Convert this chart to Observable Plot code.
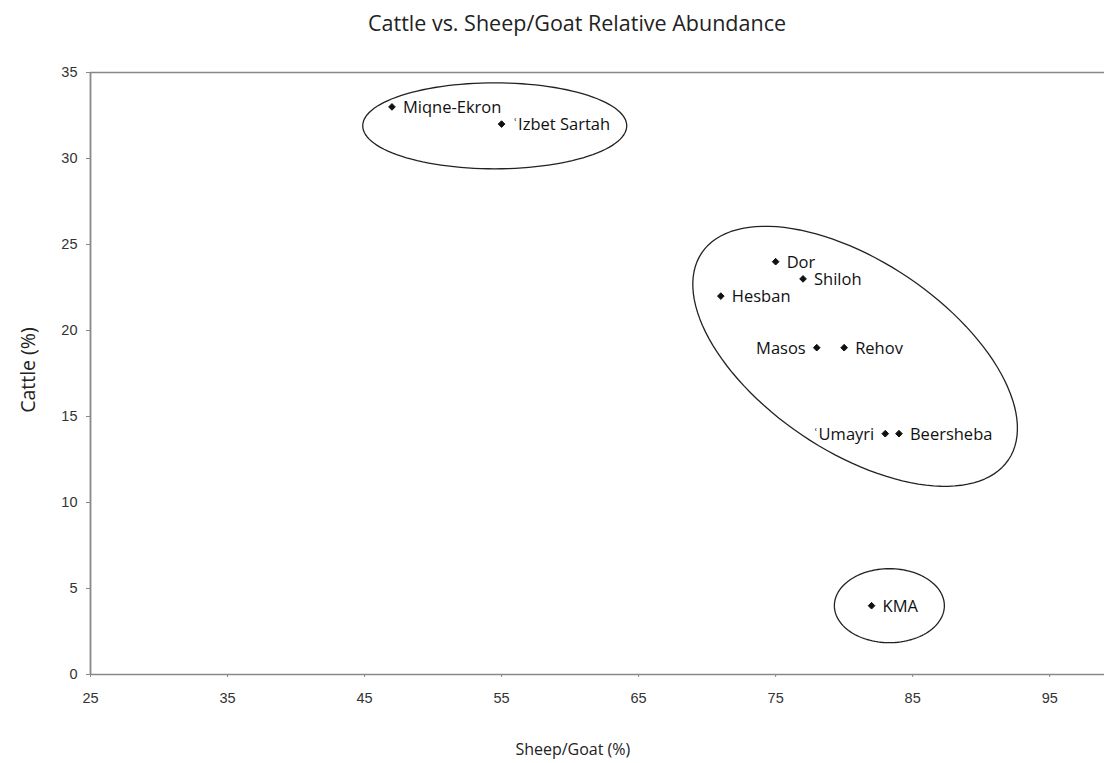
<!DOCTYPE html>
<html>
<head>
<meta charset="utf-8">
<script src="https://cdn.jsdelivr.net/npm/d3@7"></script>
<script src="https://cdn.jsdelivr.net/npm/@observablehq/plot@0.6"></script>
<style>
  html, body { margin: 0; padding: 0; background: #fff; }
  #title { height: 50px; line-height: 46px; font-family: "Open Sans", sans-serif; font-size: 21.5px; color: #222; text-align: center; width: 1104px; padding-left: 50px; box-sizing: border-box; }
  svg { display: block; }
  g[aria-label="x-axis tick label"], g[aria-label="y-axis tick label"] { font-size: 14.5px; font-family: "Liberation Sans", Arial, sans-serif; }
</style>
</head>
<body>
<div id="title">Cattle vs. Sheep/Goat Relative Abundance</div>
<div id="chart"></div>
<script>
// Data
const sites = ["Miqne-Ekron", "ʿIzbet Sartah", "Dor", "Shiloh", "Hesban", "Masos", "Rehov", "ʿUmayri", "Beersheba", "KMA"];
const sheepGoat = [47, 55, 75, 77, 71, 78, 80, 83, 84, 82];
const cattle = [33, 32, 24, 23, 22, 19, 19, 14, 14, 4];
const labelSide = ["right", "right", "right", "right", "right", "left", "right", "left", "right", "right"];
const xTicks = [25, 35, 45, 55, 65, 75, 85, 95];
const yTicks = [0, 5, 10, 15, 20, 25, 30, 35];

// Group ellipses (annotation): centre in data units
const ellipseCx = [54.5, 80.8, 83.3];
const ellipseCy = [31.9, 18.5, 4.0];

const data = sites.map((s, i) => ({site: s, x: sheepGoat[i], y: cattle[i], side: labelSide[i]}));

const W = 1104, H = 713;
const mL = 90, mR = 0, mT = 22, mB = 89;
const xDom = [25, 99], yDom = [0, 35];
const sx = (W - mL - mR) / (xDom[1] - xDom[0]);
const sy = (H - mT - mB) / (yDom[1] - yDom[0]);

// ellipse shape in pixels: semi-axes and rotation (deg)
const ellShape = [[132, 43, 0], [185, 95, 34], [55, 37, 0]];
const ellPts = [];
ellipseCx.forEach((cx, g) => {
  const [a, b, deg] = ellShape[g];
  const th = deg * Math.PI / 180;
  for (let k = 0; k <= 120; k++) {
    const t = k / 120 * 2 * Math.PI;
    const px = a * Math.cos(t) * Math.cos(th) - b * Math.sin(t) * Math.sin(th);
    const py = a * Math.cos(t) * Math.sin(th) + b * Math.sin(t) * Math.cos(th);
    ellPts.push({g, x: cx + px / sx, y: ellipseCy[g] - py / sy});
  }
});

const labelFont = '"Open Sans", sans-serif';
const tickFont = '"Liberation Sans", Arial, sans-serif';

const chart = Plot.plot({
  width: W, height: H,
  marginLeft: mL, marginRight: mR, marginTop: mT, marginBottom: mB,
  style: {fontFamily: tickFont, fontSize: "14px", color: "#333", background: "#fff", overflow: "visible"},
  x: {domain: xDom, label: null},
  y: {domain: yDom, label: null},
  marks: [
    Plot.axisX({ticks: xTicks, tickSize: 3, tickPadding: 15, label: null, fontSize: 14.5, fontFamily: tickFont, stroke: "#888", fill: "#333"}),
    Plot.axisY({ticks: yTicks, tickSize: 4, tickPadding: 9, label: null, fontSize: 14.5, fontFamily: tickFont, stroke: "#888", fill: "#333"}),
    Plot.ruleX([25], {stroke: "#888", strokeWidth: 1.8}),
    Plot.ruleY([0, 35], {stroke: "#888", strokeWidth: 1.6}),
    Plot.line(ellPts, {x: "x", y: "y", z: "g", stroke: "#222", strokeWidth: 1.3}),
    Plot.dot(data, {x: "x", y: "y", symbol: "diamond2", r: 3, fill: "#111", stroke: "#111", strokeWidth: 1}),
    Plot.text(data.filter(d => d.side === "right"), {x: "x", y: "y", text: "site", textAnchor: "start", dx: 11, dy: 1, fontFamily: labelFont, fontSize: 16.5, fill: "#111"}),
    Plot.text(data.filter(d => d.side === "left"), {x: "x", y: "y", text: "site", textAnchor: "end", dx: -11, dy: 1, fontFamily: labelFont, fontSize: 16.5, fill: "#111"}),
    Plot.text(["Sheep/Goat (%)"], {x: () => 60.2, y: () => -4.4, fontFamily: labelFont, fontSize: 16, fill: "#222"}),
    Plot.text(["Cattle (%)"], {x: () => 25 - 62 / sx, y: () => 17.7, rotate: -90, fontFamily: labelFont, fontSize: 19.5, fill: "#222"})
  ]
});
document.getElementById("chart").appendChild(chart);
</script>
</body>
</html>
